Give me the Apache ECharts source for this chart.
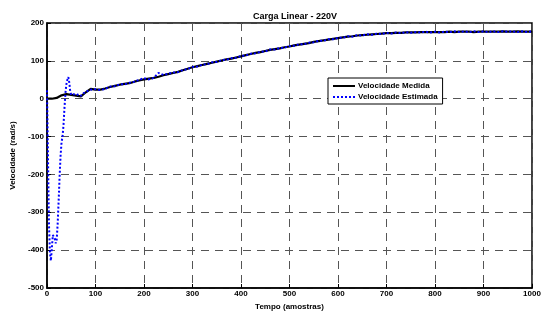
<!DOCTYPE html>
<html>
<head>
<meta charset="utf-8">
<script src="https://cdn.jsdelivr.net/npm/echarts@6/dist/echarts.min.js"></script>
<style>
  html, body { margin: 0; padding: 0; background: #fff; }
  #chart { width: 550px; height: 320px; }
</style>
</head>
<body>
<div id="chart"></div>
<script>
// samples of the measured speed (every 10 samples)
const medidaX = [0, 10, 20, 30, 40, 50, 60, 70, 80, 90, 100, 110, 120, 130, 140, 150, 160, 170, 180, 190,
  200, 210, 220, 230, 240, 250, 260, 270, 280, 290, 300, 310, 320, 330, 340, 350, 360, 370, 380, 390,
  400, 410, 420, 430, 440, 450, 460, 470, 480, 490, 500, 510, 520, 530, 540, 550, 560, 570, 580, 590,
  600, 610, 620, 630, 640, 650, 660, 670, 680, 690, 700, 710, 720, 730, 740, 750, 760, 770, 780, 790,
  800, 810, 820, 830, 840, 850, 860, 870, 880, 890, 900, 910, 920, 930, 940, 950, 960, 970, 980, 990, 1000];
const medidaY = [0, 0, 2, 9, 12, 10, 8, 6, 17, 26, 24, 24, 27, 31, 34, 37, 39, 41, 45, 48,
  51, 53, 55, 58, 62, 65, 68, 71, 75, 79, 83, 86, 89, 92, 95, 98, 101, 104, 106, 109,
  112, 115, 118, 121, 123, 126, 129, 131, 133, 136, 138, 141, 143, 145, 147, 150, 152, 154, 156, 158,
  160, 162, 164, 165, 167, 168, 169, 170, 171, 172, 173, 173, 174, 174, 175, 175, 175, 176, 176, 176,
  176, 176, 176, 177, 176, 177, 177, 177, 176, 177, 177, 177, 177, 177, 178, 177, 177, 178, 177, 177, 177];

// estimated speed (dense at the start where the estimator transient is)
const estimadaX = [0, 2, 4, 6, 8, 10, 12, 14, 16, 18, 20, 22, 24, 26, 28, 30, 32, 34, 36, 38,
  40, 42, 44, 46, 48, 50, 55, 60, 65, 70, 75, 80, 90, 100, 110, 120, 130, 140, 150, 160, 170, 180, 190,
  200, 210, 220, 230, 240, 250, 260, 270, 280, 290, 300, 310, 320, 330, 340, 350, 360, 370, 380, 390,
  400, 410, 420, 430, 440, 450, 460, 470, 480, 490, 500, 510, 520, 530, 540, 550, 560, 570, 580, 590,
  600, 610, 620, 630, 640, 650, 660, 670, 680, 690, 700, 710, 720, 730, 740, 750, 760, 770, 780, 790,
  800, 810, 820, 830, 840, 850, 860, 870, 880, 890, 900, 910, 920, 930, 940, 950, 960, 970, 980, 990, 1000];
const estimadaY = [22, -150, -330, -405, -428, -395, -360, -355, -370, -382, -372, -330, -270, -205, -150, -115, -100, -70, -25, 15,
  38, 50, 57, 42, 18, 10, 12, 9, 12, 8, 14, 18, 24, 25, 23, 26, 32, 33, 38, 38, 42, 45, 50,
  54, 51, 55, 68, 63, 66, 69, 70, 76, 78, 84, 85, 90, 91, 96, 97, 102, 103, 107, 108,
  113, 114, 119, 120, 124, 125, 130, 130, 134, 135, 139, 140, 144, 144, 148, 149, 153, 153, 157, 157,
  161, 161, 165, 164, 168, 167, 170, 169, 172, 171, 174, 172, 175, 173, 176, 174, 176, 175, 177, 175,
  177, 175, 177, 176, 178, 176, 178, 176, 178, 176, 178, 176, 178, 176, 178, 177, 178, 176, 178, 176, 178];

const xTicks = [0, 1000, 100];
const yTicks = [-500, 200, 100];

const chart = echarts.init(document.getElementById('chart'), null, { renderer: 'canvas' });

const FONT = 'Liberation Sans, Arial, sans-serif';
const gridLine = { show: true, lineStyle: { color: '#555', type: [8, 6], width: 1 } };
const tickFont = { color: '#000', fontSize: 8, fontWeight: 'bold', fontFamily: FONT };

chart.setOption({
  animation: false,
  title: {
    text: 'Carga Linear - 220V',
    left: 290,
    textAlign: 'center',
    top: 7,
    textStyle: { fontSize: 9, fontWeight: 'bold', color: '#000', fontFamily: FONT }
  },
  grid: {
    left: 47, right: 18, top: 23, bottom: 32,
    show: true, borderColor: '#000', borderWidth: 1.5, backgroundColor: '#fff'
  },
  legend: {
    orient: 'vertical',
    left: 328, top: 78,
    backgroundColor: '#fff',
    borderColor: '#000', borderWidth: 1, borderRadius: 0,
    padding: [4, 5, 3, 4],
    itemGap: 3,
    itemWidth: 22, itemHeight: 10,
    itemStyle: { opacity: 0 },
    textStyle: { fontSize: 8, fontWeight: 'bold', color: '#000', fontFamily: FONT, padding: [0, 0, 0, -2] },
    data: ['Velocidade Medida', 'Velocidade Estimada']
  },
  xAxis: {
    type: 'value',
    min: xTicks[0], max: xTicks[1], interval: xTicks[2],
    name: 'Tempo (amostras)',
    nameLocation: 'middle',
    nameGap: 13,
    nameTextStyle: { fontSize: 8, fontWeight: 'bold', color: '#000', fontFamily: FONT },
    axisLine: { show: true, onZero: false, lineStyle: { color: '#000', width: 1.5 } },
    axisTick: { show: true, inside: true, length: 4, lineStyle: { color: '#000' } },
    axisLabel: Object.assign({ margin: 2, formatter: v => String(v) }, tickFont),
    splitLine: gridLine
  },
  yAxis: {
    type: 'value',
    min: yTicks[0], max: yTicks[1], interval: yTicks[2],
    name: 'Velocidade (rad/s)',
    nameLocation: 'middle',
    nameRotate: 90,
    nameGap: 26,
    nameTextStyle: { fontSize: 8, fontWeight: 'bold', color: '#000', fontFamily: FONT },
    axisLine: { show: true, onZero: false, lineStyle: { color: '#000', width: 1.5 } },
    axisTick: { show: true, inside: true, length: 4, lineStyle: { color: '#000' } },
    axisLabel: Object.assign({ margin: 3 }, tickFont),
    splitLine: gridLine
  },
  series: [
    {
      name: 'Velocidade Medida',
      type: 'line',
      data: medidaX.map((x, i) => [x, medidaY[i]]),
      showSymbol: false,
      symbol: 'none',
      color: '#000',
      lineStyle: { color: '#000', width: 2.2 }
    },
    {
      name: 'Velocidade Estimada',
      type: 'line',
      data: estimadaX.map((x, i) => [x, estimadaY[i]]),
      showSymbol: false,
      symbol: 'none',
      color: '#0000ff',
      lineStyle: { color: '#0000ff', width: 2, type: [2, 2] }
    }
  ]
});
</script>
</body>
</html>
